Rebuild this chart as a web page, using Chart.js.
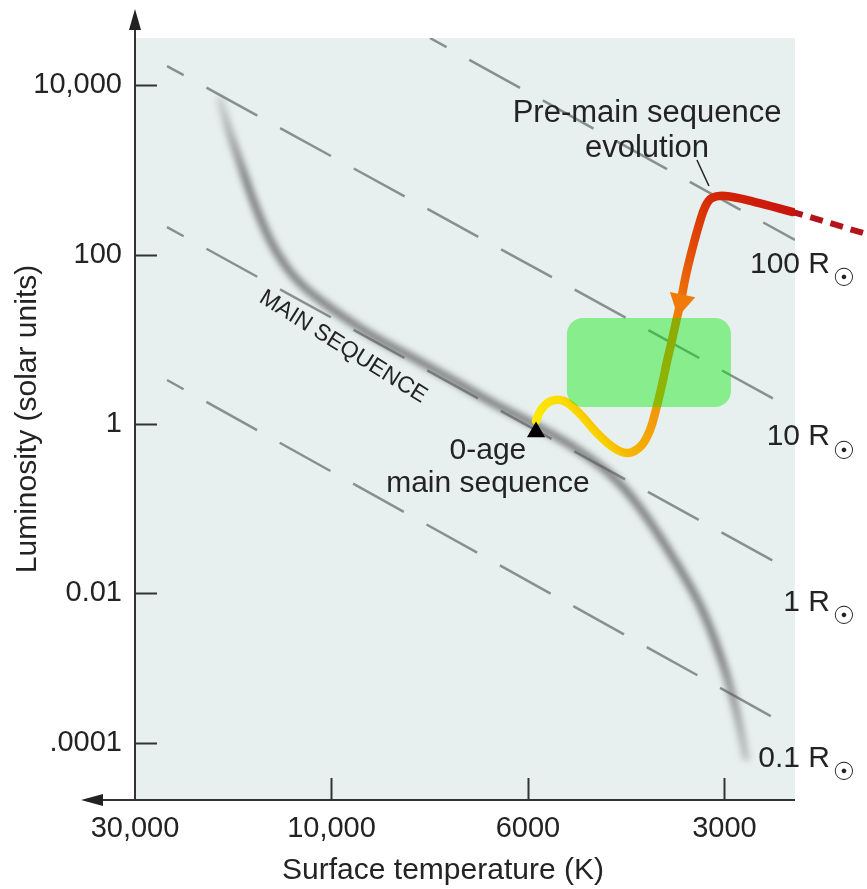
<!DOCTYPE html>
<html>
<head>
<meta charset="utf-8">
<title>Pre-main sequence evolution</title>
<script src="https://cdn.jsdelivr.net/npm/chart.js@4.4.1/dist/chart.umd.min.js"></script>
<style>
  html, body { margin: 0; padding: 0; background: #fff; }
  #wrap { width: 867px; height: 889px; }
</style>
</head>
<body>
<div id="wrap"><canvas id="hr"></canvas></div>
<script>
// temperature axis is schematic: equal steps between the labelled temperatures
const tempLabels = ['30,000', '10,000', '6000', '3000'];
const tempPos = [0, 1, 2, 3];

// luminosity axis in log10(L); the lowest tick sits a little high on this diagram
const lumLabels = ['10,000', '100', '1', '0.01', '.0001'];
const lumPos = [4, 2, 0, -2, -3.76];

// main sequence band
const msX = [0.433, 0.483, 0.534, 0.601, 0.687, 0.763, 0.840, 0.941, 1.069, 1.221, 1.435,
             1.618, 1.822, 2.036, 2.239, 2.433, 2.570, 2.723, 2.875, 2.977, 3.053, 3.109];
const msY = [3.823, 3.434, 3.091, 2.643, 2.171, 1.876, 1.664, 1.463, 1.251, 1.027, 0.755,
             0.519, 0.248, -0.012, -0.283, -0.625, -0.991, -1.522, -2.136, -2.726, -3.316, -3.929];

// pre-main-sequence track of a 1 solar mass star
const tailX = [3.705, 3.349];
const tailY = [2.254, 2.501];
const trackX = [3.349, 3.155, 3.003, 2.936, 2.901, 2.870, 2.835, 2.804, 2.779, 2.758, 2.733,
                2.707, 2.682, 2.651, 2.621, 2.575, 2.509, 2.438, 2.346, 2.260, 2.183, 2.117, 2.066, 2.041];
const trackY = [2.501, 2.619, 2.690, 2.667, 2.560, 2.348, 2.053, 1.758, 1.463, 1.251, 0.991,
                0.732, 0.460, 0.165, -0.071, -0.260, -0.342, -0.283, -0.094, 0.130, 0.271, 0.271, 0.165, 0.035];
const arrowPt = [2.779, 1.440];
const zamsPt = [2.041, -0.094];

// lines of constant radius
const radiusNames = ['100 R', '10 R', '1 R', '0.1 R'];
const radiusX0 = [1.501, 0.163, 0.163, 0.163];
const radiusY0 = [4.555, 4.224, 2.324, 0.519];
const radiusX1 = [3.359, 3.308, 3.323, 3.344];
const radiusY1 = [2.171, 0.224, -1.711, -3.587];

const FONT = '"Liberation Sans", Arial, Helvetica, sans-serif';
const INK = '#232323';

function pts(xs, ys) {
  return xs.map((x, i) => ({ x: x, y: ys[i] }));
}

function trackGradient(c) {
  const chart = c.chart;
  if (!chart.chartArea) return '#e05010';
  const sx = chart.scales.x, sy = chart.scales.y;
  const n = trackX.length - 1;
  const g = chart.ctx.createLinearGradient(
    sx.getPixelForValue(trackX[0]), sy.getPixelForValue(trackY[0]),
    sx.getPixelForValue(trackX[n]), sy.getPixelForValue(trackY[n]));
  g.addColorStop(0, '#c8140c');
  g.addColorStop(0.17, '#d62a06');
  g.addColorStop(0.3, '#e24a06');
  g.addColorStop(0.45, '#f07a0a');
  g.addColorStop(0.72, '#f29a0a');
  g.addColorStop(0.85, '#f6b800');
  g.addColorStop(0.9, '#fcdc00');
  g.addColorStop(1, '#ffea00');
  return g;
}

function msGradient(c) {
  const chart = c.chart;
  if (!chart.chartArea) return 'rgba(90,90,90,0.6)';
  const sy = chart.scales.y;
  const g = chart.ctx.createLinearGradient(0, sy.getPixelForValue(msY[0]), 0, sy.getPixelForValue(msY[msY.length - 1]));
  g.addColorStop(0, 'rgba(90,90,90,0.2)');
  g.addColorStop(0.12, 'rgba(90,90,90,0.75)');
  g.addColorStop(0.85, 'rgba(90,90,90,0.75)');
  g.addColorStop(1, 'rgba(90,90,90,0.3)');
  return g;
}

// background, axes with arrows, inward ticks, labels and the green box
const hrDecor = {
  id: 'hrDecor',
  beforeDatasetsDraw(chart) {
    const { ctx, chartArea: a } = chart;
    ctx.save();
    ctx.fillStyle = '#e8f0ef';
    ctx.fillRect(a.left, a.top, a.right - a.left, a.bottom - a.top);
    ctx.restore();
  },
  beforeDatasetDraw(chart, args) {
    const ds = chart.data.datasets[args.index];
    if (ds.blurPx) {
      chart.ctx.save();
      chart.ctx.filter = 'blur(' + ds.blurPx + 'px)';
    }
  },
  afterDatasetDraw(chart, args) {
    const ds = chart.data.datasets[args.index];
    if (ds.blurPx) chart.ctx.restore();
  },
  afterDatasetsDraw(chart) {
    const { ctx, chartArea: a } = chart;
    const sx = chart.scales.x, sy = chart.scales.y;
    const px = v => sx.getPixelForValue(v);
    const py = v => sy.getPixelForValue(v);

    ctx.save();
    // axes
    ctx.strokeStyle = '#333';
    ctx.fillStyle = '#222';
    ctx.lineWidth = 2;
    ctx.beginPath();
    ctx.moveTo(a.left, a.bottom);
    ctx.lineTo(a.left, 26);
    ctx.moveTo(a.right, a.bottom);
    ctx.lineTo(100, a.bottom);
    ctx.stroke();
    ctx.beginPath();
    ctx.moveTo(a.left, 9);
    ctx.lineTo(a.left - 6, 30);
    ctx.lineTo(a.left + 6, 30);
    ctx.closePath();
    ctx.moveTo(81, a.bottom);
    ctx.lineTo(103, a.bottom - 6);
    ctx.lineTo(103, a.bottom + 6);
    ctx.closePath();
    ctx.fill();

    // tick marks pointing into the plot
    ctx.beginPath();
    sy.ticks.forEach(t => {
      const y = Math.round(py(t.value)) + 0.5;
      ctx.moveTo(a.left, y);
      ctx.lineTo(a.left + 22, y);
    });
    sx.ticks.forEach(t => {
      if (t.value === sx.min) return;
      const x = Math.round(px(t.value)) + 0.5;
      ctx.moveTo(x, a.bottom);
      ctx.lineTo(x, a.bottom - 22);
    });
    ctx.stroke();

    // x axis title
    ctx.fillStyle = INK;
    ctx.font = '30px ' + FONT;
    ctx.textAlign = 'center';
    ctx.textBaseline = 'alphabetic';
    ctx.fillText('Surface temperature (K)', 443, 879);

    // annotations
    ctx.font = '31px ' + FONT;
    ctx.fillText('Pre-main sequence', px(2.606), py(3.563));
    ctx.fillText('evolution', px(2.606), py(3.150));
    ctx.font = '30px ' + FONT;
    ctx.fillText('0-age', px(1.796), py(-0.413));
    ctx.fillText('main sequence', px(1.796), py(-0.802));

    ctx.lineWidth = 1.5;
    ctx.strokeStyle = '#222';
    ctx.beginPath();
    ctx.moveTo(px(2.860), py(3.116));
    ctx.lineTo(px(2.921), py(2.808));
    ctx.stroke();

    // rotated band label
    ctx.save();
    ctx.translate(px(1.059), py(0.909));
    ctx.rotate(32 * Math.PI / 180);
    ctx.font = '23px ' + FONT;
    ctx.textBaseline = 'middle';
    ctx.fillText('MAIN SEQUENCE', 0, 0);
    ctx.restore();

    // radius labels with solar subscript
    const labelY = [1.782, -0.248, -2.206, -4.047];
    radiusNames.forEach((name, i) => {
      const y = py(labelY[i]);
      ctx.font = '30px ' + FONT;
      ctx.textAlign = 'right';
      ctx.textBaseline = 'alphabetic';
      ctx.fillText(name, a.right + 35, y);
      ctx.font = '25px "DejaVu Sans", sans-serif';
      ctx.textAlign = 'center';
      ctx.textBaseline = 'middle';
      ctx.fillText('\u2609', a.right + 49, y + 7);
    });

    // green box over the track
    const bx0 = px(2.198), bx1 = px(3.033), by0 = py(1.251), by1 = py(0.201);
    ctx.fillStyle = 'rgba(0, 232, 0, 0.41)';
    ctx.beginPath();
    ctx.roundRect(bx0, by0, bx1 - bx0, by1 - by0, 16);
    ctx.fill();
    ctx.restore();
  }
};

Chart.defaults.font.family = FONT;

const radiusSets = radiusNames.map((name, i) => ({
  label: name,
  data: [{ x: radiusX0[i], y: radiusY0[i] }, { x: radiusX1[i], y: radiusY1[i] }],
  borderColor: 'rgba(120,126,126,0.85)',
  borderWidth: 2.5,
  borderDash: [58, 26],
  borderDashOffset: 39,
  pointRadius: 0
}));

// Chart.js paints the first dataset on top, so the list runs top to bottom
new Chart(document.getElementById('hr'), {
  type: 'line',
  data: {
    datasets: [
      {
        label: 'Zero-age main sequence',
        data: [{ x: zamsPt[0], y: zamsPt[1] }],
        showLine: false,
        pointStyle: 'triangle',
        pointRadius: 10.5,
        backgroundColor: '#000',
        borderWidth: 0
      },
      {
        label: 'Arrow',
        data: [{ x: arrowPt[0], y: arrowPt[1] }],
        showLine: false,
        pointStyle: 'triangle',
        pointRadius: 15,
        rotation: 192,
        backgroundColor: '#f07a0a',
        borderWidth: 0
      },
      {
        label: 'Pre-main sequence track',
        data: pts(trackX, trackY),
        borderColor: trackGradient,
        borderWidth: 8.5,
        tension: 0.4,
        pointRadius: 0,
        borderCapStyle: 'round',
        borderJoinStyle: 'round'
      },
      {
        label: 'Track (early)',
        data: pts(tailX, tailY),
        borderColor: '#b3131a',
        borderWidth: 6,
        borderDash: [13, 8],
        pointRadius: 0,
        clip: false
      },
      {
        label: 'Main sequence',
        data: pts(msX, msY),
        borderColor: msGradient,
        borderWidth: 8,
        tension: 0.4,
        pointRadius: 0,
        borderCapStyle: 'round',
        blurPx: 3
      }
    ].concat(radiusSets)
  },
  options: {
    responsive: true,
    maintainAspectRatio: false,
    animation: false,
    layout: { padding: { top: 38, right: 72, left: 0, bottom: 0 } },
    plugins: { legend: { display: false }, tooltip: { enabled: false } },
    scales: {
      x: {
        type: 'linear',
        min: 0,
        max: 3.359,
        grid: { display: false, drawTicks: false },
        border: { display: false },
        afterBuildTicks: s => { s.ticks = tempPos.map(v => ({ value: v })); },
        afterFit: s => { s.height = 89; },
        ticks: {
          callback: (v, i) => tempLabels[i],
          autoSkip: false,
          maxRotation: 0,
          padding: 12,
          color: INK,
          font: { size: 29 }
        }
      },
      y: {
        type: 'linear',
        min: -4.437,
        max: 4.555,
        grid: { display: false, drawTicks: false },
        border: { display: false },
        afterBuildTicks: s => { s.ticks = lumPos.map(v => ({ value: v })); },
        afterFit: s => { s.width = 135; },
        ticks: {
          callback: (v, i) => lumLabels[i],
          autoSkip: false,
          padding: 13,
          color: INK,
          font: { size: 29 }
        },
        title: {
          display: true,
          text: 'Luminosity (solar units)',
          color: INK,
          font: { size: 30 },
          padding: { top: 10, bottom: 0 }
        }
      }
    }
  },
  plugins: [hrDecor]
});
</script>
</body>
</html>
